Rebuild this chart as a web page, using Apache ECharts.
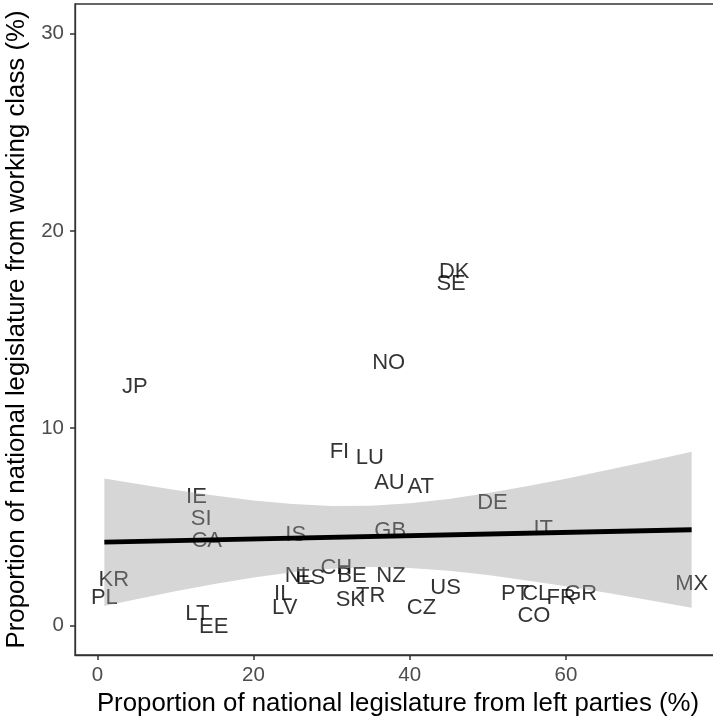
<!DOCTYPE html>
<html>
<head>
<meta charset="utf-8">
<script src="https://cdn.jsdelivr.net/npm/echarts@6/dist/echarts.min.js"></script>
<style>
html,body{margin:0;padding:0;background:#fff;}
#chart{width:713px;height:721px;}
</style>
</head>
<body>
<div id="chart"></div>
<script>
const codes = ['DK','SE','NO','JP','FI','LU','AU','AT','IE','SI','CA','IS','GB','DE','IT','KR','PL','LT','EE','IL','LV','NL','ES','CH','BE','SK','TR','NZ','US','CZ','PT','CL','FR','GR','CO','MX'];
const leftShare = [45.7,45.3,37.3,4.8,31.0,34.9,37.4,41.4,12.7,13.3,14.0,25.4,37.5,50.6,57.1,2.1,0.9,12.8,14.9,23.8,24.0,25.8,27.3,30.6,32.6,32.4,35.0,37.6,44.6,41.5,53.5,56.2,59.4,61.9,55.9,76.1];
const workingShare = [18.0,17.4,13.4,12.2,8.9,8.6,7.3,7.1,6.6,5.5,4.4,4.7,4.9,6.3,5.0,2.4,1.5,0.7,0.0,1.7,1.0,2.6,2.5,3.0,2.6,1.4,1.6,2.6,2.0,1.0,1.7,1.7,1.5,1.7,0.6,2.2];

const fitX = [0.9, 76.1];
const fitY = [4.22, 4.85];

const bandX     = [0.9, 5, 10, 15, 20, 25, 30, 35, 40, 45, 50, 55, 60, 65, 70, 76.1];
const bandLower = [0.99,1.32,1.73,2.10,2.43,2.69,2.87,2.96,2.91,2.77,2.55,2.28,1.98,1.67,1.33,0.90];
const bandUpper = [7.45,7.18,6.87,6.58,6.33,6.15,6.05,6.06,6.19,6.41,6.71,7.06,7.44,7.85,8.27,8.80];

const xTicks = [0, 20, 40, 60];
const yTicks = [0, 10, 20, 30];

const FONT = 'Liberation Sans, Arial, Helvetica, sans-serif';

const chart = echarts.init(document.getElementById('chart'), null, {renderer:'canvas'});

const labelData = codes.map((c, i) => [leftShare[i], workingShare[i], c]);
const fitData = fitX.map((x, i) => [x, fitY[i]]);

function renderBand(params, api) {
  const pts = [];
  for (let i = 0; i < bandX.length; i++) pts.push(api.coord([bandX[i], bandUpper[i]]));
  for (let i = bandX.length - 1; i >= 0; i--) pts.push(api.coord([bandX[i], bandLower[i]]));
  return {
    type: 'polygon',
    shape: {points: pts},
    style: {fill: 'rgba(153,153,153,0.4)', stroke: null}
  };
}

chart.setOption({
  animation: false,
  backgroundColor: '#ffffff',
  grid: {
    left: 75, top: 4, width: 646, height: 651,
    show: true, borderColor: '#333333', borderWidth: 1.3, backgroundColor: 'transparent',
    containLabel: false, outerBoundsMode: 'none'
  },
  xAxis: {
    type: 'value', min: -2.86, max: 79.86,
    name: 'Proportion of national legislature from left parties (%)',
    nameLocation: 'middle', nameGap: 35,
    nameTextStyle: {fontSize: 25.8, color: '#000', fontFamily: FONT},
    axisLine: {show: true, onZero: false, lineStyle: {color: '#333333', width: 1.3}},
    axisTick: {show: true, inside: false, length: 5, customValues: xTicks, lineStyle: {color: '#333333', width: 1.5}},
    axisLabel: {customValues: xTicks, margin: 10, fontSize: 20.5, color: '#4D4D4D', fontFamily: FONT},
    splitLine: {show: false}
  },
  yAxis: {
    type: 'value', min: -1.5, max: 31.5,
    name: 'Proportion of national legislature from working class (%)',
    nameLocation: 'middle', nameGap: 44,
    nameTextStyle: {fontSize: 25.8, color: '#000', fontFamily: FONT},
    axisLine: {show: true, onZero: false, lineStyle: {color: '#333333', width: 1.3}},
    axisTick: {show: true, inside: false, length: 5, customValues: yTicks, lineStyle: {color: '#333333', width: 1.5}},
    axisLabel: {customValues: yTicks, margin: 11, fontSize: 20.5, color: '#4D4D4D', fontFamily: FONT},
    splitLine: {show: false}
  },
  series: [
    {
      type: 'scatter', z: 2, silent: true,
      data: labelData, symbolSize: 1,
      itemStyle: {color: 'rgba(0,0,0,0)'},
      label: {
        show: true, position: 'inside', offset: [0, 2],
        formatter: p => p.value[2],
        fontSize: 22, color: '#000', fontFamily: FONT
      },
      emphasis: {disabled: true}
    },
    {
      type: 'custom', z: 3, silent: true,
      data: [[0, 0]],
      renderItem: renderBand,
      clip: true
    },
    {
      type: 'line', z: 4, silent: true,
      data: fitData, symbol: 'none',
      lineStyle: {color: '#000', width: 4.8}
    }
  ]
});
</script>
</body>
</html>
